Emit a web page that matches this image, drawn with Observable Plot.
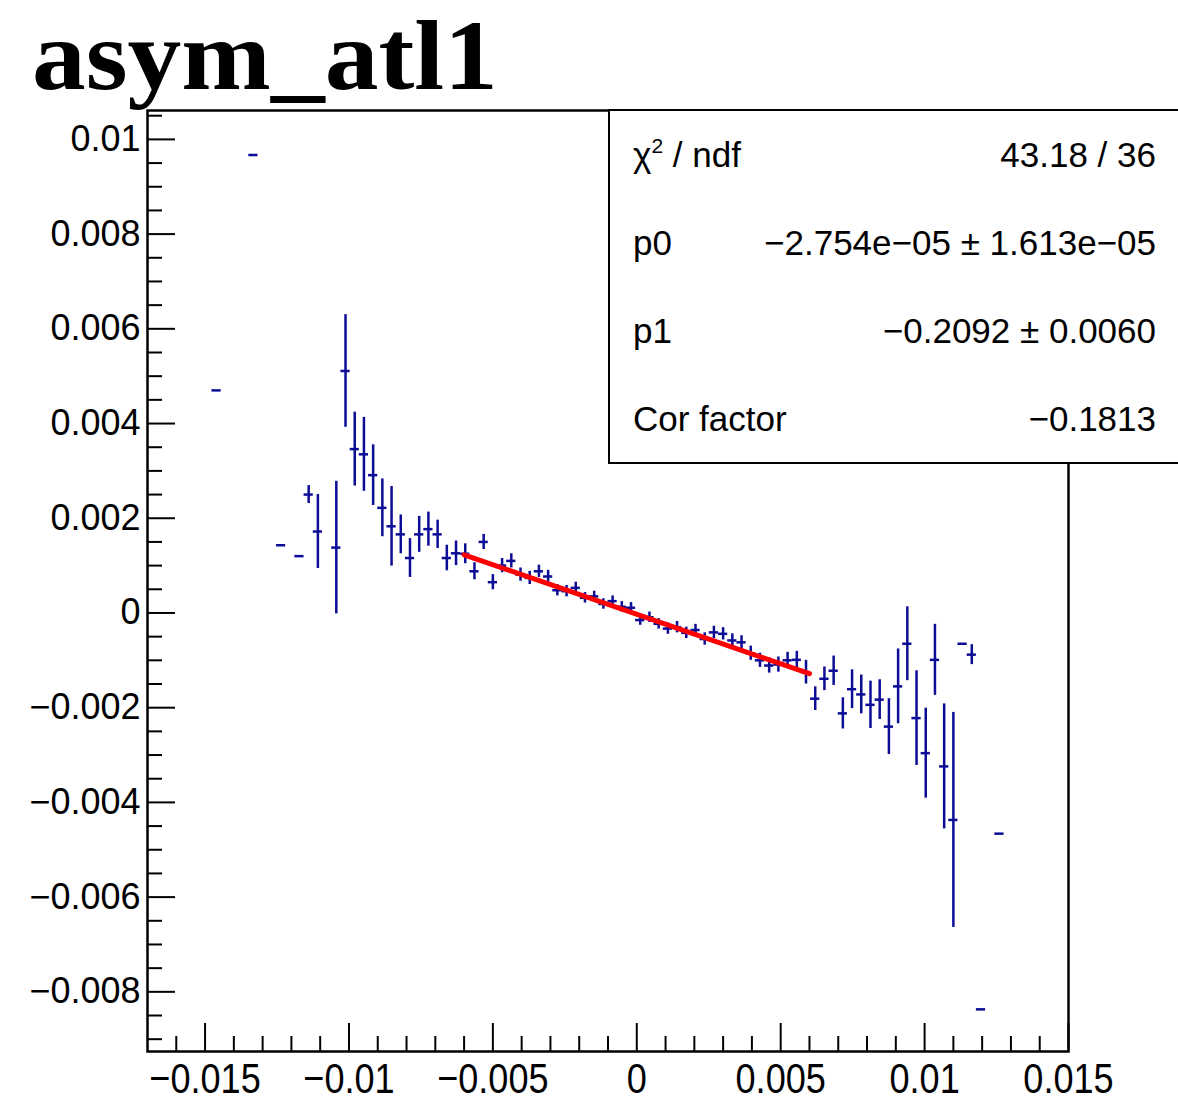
<!DOCTYPE html>
<html>
<head>
<meta charset="utf-8">
<script src="https://cdn.jsdelivr.net/npm/d3@7"></script>
<script src="https://cdn.jsdelivr.net/npm/@observablehq/plot@0.6"></script>
<style>
  html, body { margin: 0; padding: 0; background: #fff; overflow: hidden; }
  #wrap { position: relative; width: 1178px; height: 1119px; overflow: hidden; }
  #title { position: absolute; left: 32px; top: 6px; font-family: "Liberation Serif", "Times New Roman", serif; font-weight: bold; font-size: 100px; line-height: 1; color: #000; white-space: nowrap; transform: scaleX(1.075); transform-origin: 0 0; }
  #stats { position: absolute; left: 608px; top: 109px; width: 700px; height: 351px; border: 2px solid #000; background: #fff; font-family: "Liberation Sans", Arial, Helvetica, sans-serif; font-size: 35px; color: #000; }
  .row { position: absolute; left: 23px; width: 523px; height: 88px; display: flex; justify-content: space-between; align-items: center; white-space: nowrap; }
  .row sup { font-size: 21px; vertical-align: 14px; line-height: 0; }
  #chart { position: absolute; left: 0; top: 0; }
</style>
</head>
<body>
<div id="wrap">
  <div id="chart"></div>
  <div id="title"></div>
  <div id="stats"></div>
</div>
<script>
// ---- data (bin centres, contents, errors) ----
const binCenters = [
  -0.01460, -0.01332, -0.01236, -0.01172, -0.01140, -0.01108, -0.01044, -0.01012,
  -0.00980, -0.00948, -0.00916, -0.00884, -0.00852, -0.00820, -0.00788, -0.00756,
  -0.00724, -0.00692, -0.00660, -0.00628, -0.00596, -0.00564, -0.00532, -0.00500,
  -0.00468, -0.00436, -0.00404, -0.00372, -0.00340, -0.00308, -0.00276, -0.00244,
  -0.00212, -0.00180, -0.00148, -0.00116, -0.00084, -0.00052, -0.00020, 0.00012,
  0.00044, 0.00076, 0.00108, 0.00140, 0.00172, 0.00204, 0.00236, 0.00268,
  0.00300, 0.00332, 0.00364, 0.00396, 0.00428, 0.00460, 0.00492, 0.00524,
  0.00556, 0.00588, 0.00620, 0.00652, 0.00684, 0.00716, 0.00748, 0.00780,
  0.00812, 0.00844, 0.00876, 0.00908, 0.00940, 0.00972, 0.01004, 0.01036,
  0.01068, 0.01100, 0.01132, 0.01164, 0.01196, 0.01260
];
const binValues = [
  0.00470, 0.00967, 0.00143, 0.00120, 0.00250, 0.00172, 0.00138, 0.00511,
  0.00346, 0.00335, 0.00291, 0.00222, 0.00183, 0.00166, 0.00116, 0.00166,
  0.00177, 0.00166, 0.00116, 0.00126, 0.00125, 0.00088, 0.00150, 0.00065,
  0.00100, 0.00110, 0.00081, 0.00074, 0.00088, 0.00077, 0.00048, 0.00046,
  0.00053, 0.00032, 0.00035, 0.00019, 0.00025, 0.00013, 0.00011, -0.00015,
  -0.00009, -0.00023, -0.00033, -0.00030, -0.00042, -0.00036, -0.00055, -0.00041,
  -0.00044, -0.00058, -0.00062, -0.00085, -0.00100, -0.00111, -0.00109, -0.00100,
  -0.00099, -0.00125, -0.00181, -0.00139, -0.00122, -0.00212, -0.00161, -0.00172,
  -0.00194, -0.00183, -0.00240, -0.00155, -0.00065, -0.00222, -0.00296, -0.00099,
  -0.00324, -0.00437, -0.00065, -0.00088, -0.00837, -0.00466
];
const binErrors = [
  0, 0, 0, 0, 0.00019, 0.00078, 0.00140, 0.00119,
  0.00078, 0.00078, 0.00064, 0.00061, 0.00084, 0.00041, 0.00041, 0.00038,
  0.00036, 0.00030, 0.00027, 0.00026, 0.00021, 0.00018, 0.00016, 0.00016,
  0.00015, 0.00015, 0.00014, 0.00014, 0.00013, 0.00013, 0.00012, 0.00012,
  0.00012, 0.00011, 0.00011, 0.00011, 0.00011, 0.00011, 0.00011, 0.00011,
  0.00011, 0.00011, 0.00012, 0.00012, 0.00012, 0.00012, 0.00013, 0.00013,
  0.00013, 0.00014, 0.00014, 0.00015, 0.00015, 0.00016, 0.00016, 0.00017,
  0.00018, 0.00025, 0.00025, 0.00025, 0.00031, 0.00033, 0.00041, 0.00041,
  0.00050, 0.00042, 0.00059, 0.00079, 0.00078, 0.00100, 0.00095, 0.00075,
  0.00132, 0.00227, 0, 0.00021, 0, 0
];
const binWidth = 0.00032;

// fit: pol1 over [-0.006, 0.006]
const fitRange = [-0.006, 0.006];
const p0 = -2.754e-05;
const p1 = -0.2092;

// axes
const xDomain = [-0.017, 0.015];
const yDomain = [-0.00926, 0.01061];
const xMajorTicks = [-0.015, -0.01, -0.005, 0, 0.005, 0.01, 0.015];
const xMinorTicks = [-0.016, -0.014, -0.013, -0.012, -0.011, -0.009, -0.008, -0.007, -0.006,
  -0.004, -0.003, -0.002, -0.001, 0.001, 0.002, 0.003, 0.004, 0.006, 0.007, 0.008, 0.009,
  0.011, 0.012, 0.013, 0.014];
const yMajorTicks = [-0.008, -0.006, -0.004, -0.002, 0, 0.002, 0.004, 0.006, 0.008, 0.01];
const yMinorTicks = [-0.009, -0.0085, -0.0075, -0.007, -0.0065, -0.0055, -0.005, -0.0045,
  -0.0035, -0.003, -0.0025, -0.0015, -0.001, -0.0005, 0.0005, 0.001, 0.0015, 0.0025, 0.003,
  0.0035, 0.0045, 0.005, 0.0055, 0.0065, 0.007, 0.0075, 0.0085, 0.009, 0.0095, 0.0105];

const titleText = "asym_atl1";
const statsLabels = ["χ<sup>2</sup> / ndf", "p0", "p1", "Cor factor"];
const statsValues = ["43.18 / 36", "\u22122.754e\u221205 \u00b1 1.613e\u221205", "\u22120.2092 \u00b1 0.0060", "\u22120.1813"];

// ---- layout ----
const W = 1178, H = 1119;
const mL = 147, mR = 110, mT = 110, mB = 68;
const innerW = W - mL - mR, innerH = H - mT - mB;
const blue = "#0c0c96";
const fmt = d3.format("~g");

const points = binCenters.map((x, i) => ({x, y: binValues[i], e: binErrors[i]}));
const fitPts = fitRange.map(x => ({x, y: p0 + p1 * x}));

const chart = Plot.plot({
  width: W,
  height: H,
  marginLeft: mL, marginRight: mR, marginTop: mT, marginBottom: mB,
  style: {fontFamily: "'Liberation Sans', Arial, Helvetica, sans-serif", fontSize: "36px", color: "#000", background: "#fff"},
  x: {domain: xDomain, label: null},
  y: {domain: yDomain, label: null},
  marks: [
    Plot.tickX(xMajorTicks, {x: d => d, insetTop: innerH - 28, stroke: "#000", strokeWidth: 2}),
    Plot.tickX(xMinorTicks, {x: d => d, insetTop: innerH - 15, stroke: "#000", strokeWidth: 2}),
    Plot.tickY(yMajorTicks, {y: d => d, insetRight: innerW - 28, stroke: "#000", strokeWidth: 2}),
    Plot.tickY(yMinorTicks, {y: d => d, insetRight: innerW - 15, stroke: "#000", strokeWidth: 2}),
    Plot.axisX({ticks: xMajorTicks, tickSize: 0, tickPadding: 11, tickFormat: fmt, label: null, fontSize: 43}),
    Plot.axisY({ticks: yMajorTicks, tickSize: 0, tickPadding: 7, tickFormat: fmt, label: null}),
    Plot.ruleY(points, {y: "y", x1: d => d.x - binWidth / 2, x2: d => d.x + binWidth / 2, stroke: blue, strokeWidth: 2.5}),
    Plot.ruleX(points.filter(d => d.e > 0), {x: "x", y1: d => d.y - d.e, y2: d => d.y + d.e, stroke: blue, strokeWidth: 2.5}),
    Plot.line(fitPts, {x: "x", y: "y", stroke: "#ff0000", strokeWidth: 5}),
    Plot.frame({stroke: "#000", strokeWidth: 2.5})
  ]
});
document.getElementById("chart").appendChild(chart);

// condense the x tick labels horizontally (tall, narrow glyphs as in the reference)
chart.querySelectorAll('g[aria-label="x-axis tick label"] text').forEach(t => {
  const tr = t.getAttribute("transform") || "";
  t.setAttribute("transform", tr + " scale(0.84,1)");
});

document.getElementById("title").textContent = titleText;
const stats = document.getElementById("stats");
statsLabels.forEach((lab, i) => {
  const row = document.createElement("div");
  row.className = "row";
  row.style.top = (i * 88) + "px";
  row.innerHTML = `<span>${lab}</span><span>${statsValues[i]}</span>`;
  stats.appendChild(row);
});
</script>
</body>
</html>
